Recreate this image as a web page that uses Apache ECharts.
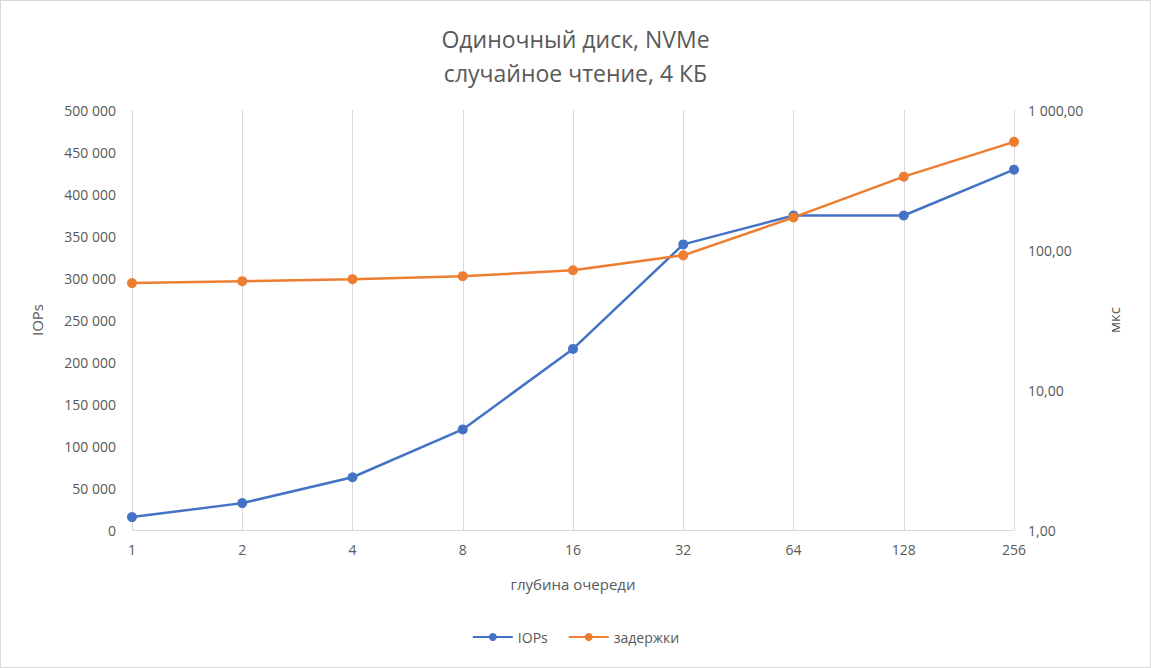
<!DOCTYPE html>
<html><head><meta charset="utf-8">
<script src="https://cdn.jsdelivr.net/npm/echarts@6/dist/echarts.min.js"></script>
<style>html,body{margin:0;padding:0;background:#fff}#c{width:1151px;height:668px;box-sizing:border-box;border:1px solid #d9d9d9}</style>
</head><body><div id="c"></div>
<script>
const depths = ["1", "2", "4", "8", "16", "32", "64", "128", "256"];
const iops = [15400, 32000, 62800, 119700, 215600, 340000, 374400, 374400, 429000];
const latency = [58, 59.9, 61.9, 65, 71.7, 91.6, 170.8, 334, 592];

const fmtInt = (v) => String(Math.round(v)).replace(/\B(?=(\d{3})+(?!\d))/g, " ");
const fmtDec = (v) => fmtInt(Math.floor(v)) + "," + v.toFixed(2).split(".")[1];
const txt = "#595959", font = "'Open Sans', 'Noto Sans', sans-serif";

const chart = echarts.init(document.getElementById("c"), null, { renderer: "svg" });
chart.setOption({
  textStyle: { fontFamily: font },
  title: { text: "Одиночный диск, NVMe\nслучайное чтение, 4 КБ", left: "center", top: 16,
    textStyle: { color: txt, fontSize: 23, fontWeight: "normal", lineHeight: 34, fontFamily: font } },
  grid: { left: 131, right: 136, top: 109, bottom: 137 },
  legend: { bottom: 18, itemWidth: 40, itemHeight: 10, itemGap: 20, textStyle: { color: txt, fontSize: 14 },
    data: ["IOPs", "задержки"] },
  xAxis: { type: "category", data: depths, boundaryGap: false, name: "глубина очереди", nameLocation: "middle", nameGap: 46,
    nameTextStyle: { color: txt, fontSize: 15 },
    axisTick: { show: false }, axisLine: { lineStyle: { color: "#d9d9d9" } },
    axisLabel: { color: txt, fontSize: 14, margin: 12 },
    splitLine: { show: true, lineStyle: { color: "#d9d9d9" } } },
  yAxis: [
    { type: "value", min: 0, max: 500000, interval: 50000, name: "IOPs", nameLocation: "middle", nameGap: 88,
      nameTextStyle: { color: txt, fontSize: 15 },
      axisLabel: { color: txt, fontSize: 14, formatter: fmtInt, margin: 16 },
      axisLine: { show: false }, splitLine: { show: false } },
    { type: "log", logBase: 10, min: 1, max: 1000, name: "мкс", nameLocation: "middle", nameGap: 92,
      nameTextStyle: { color: txt, fontSize: 15 },
      axisLabel: { color: txt, fontSize: 14, formatter: fmtDec, margin: 14 },
      axisLine: { show: true, lineStyle: { color: "#d9d9d9" } }, axisTick: { show: false },
      splitLine: { show: false } }
  ],
  series: [
    { name: "IOPs", type: "line", data: iops, yAxisIndex: 0, symbol: "circle", symbolSize: 10,
      itemStyle: { color: "#4472c4" }, lineStyle: { width: 2.5, color: "#4472c4" } },
    { name: "задержки", type: "line", data: latency, yAxisIndex: 1, symbol: "circle", symbolSize: 10,
      itemStyle: { color: "#ed7d31" }, lineStyle: { width: 2.5, color: "#ed7d31" } }
  ]
});
</script></body></html>
